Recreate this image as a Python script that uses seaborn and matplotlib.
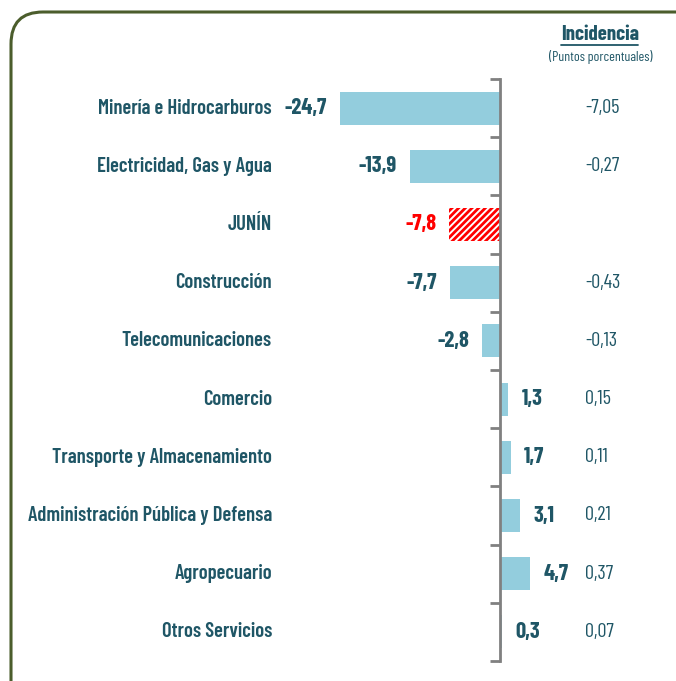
import matplotlib
matplotlib.use("Agg")
import matplotlib.pyplot as plt
import seaborn as sns
import pandas as pd
from matplotlib.patches import FancyBboxPatch
from matplotlib.transforms import IdentityTransform

sectors = ["Minería e Hidrocarburos", "Electricidad, Gas y Agua", "JUNÍN", "Construcción",
           "Telecomunicaciones", "Comercio", "Transporte y Almacenamiento",
           "Administración Pública y Defensa", "Agropecuario", "Otros Servicios"]
variation = [-24.7, -13.9, -7.8, -7.7, -2.8, 1.3, 1.7, 3.1, 4.7, 0.3]
incidence = ["-7,05", "-0,27", "", "-0,43", "-0,13", "0,15", "0,11", "0,21", "0,37", "0,07"]
total_label = "JUNÍN"

TEAL = "#1f5666"
BAR = "#93cddd"
RED = "#ff0000"

sns.set_theme(style="white")
plt.rcParams["font.family"] = ["Barlow Condensed", "DejaVu Sans"]
plt.rcParams["hatch.linewidth"] = 2.0
plt.rcParams["hatch.color"] = RED

W, H = 676, 681
fig = plt.figure(figsize=(W / 100, H / 100), dpi=100)
fig.patch.set_facecolor("white")

# axes placed in pixel terms: x 280..676, y 79..661 (from top)
AX_L, AX_R, AX_T, AX_B = 280, 676, 79, 661
ax = fig.add_axes([AX_L / W, 1 - AX_B / H, (AX_R - AX_L) / W, (AX_B - AX_T) / H])
df = pd.DataFrame({"sector": sectors, "value": variation})
palette = {s: ("white" if s == total_label else BAR) for s in sectors}
sns.barplot(data=df, y="sector", x="value", hue="sector", palette=palette,
            order=sectors, legend=False, width=0.57, ax=ax, saturation=1)
for p, s in zip(ax.patches, sectors):
    p.set_linewidth(0)
    if s == total_label:
        p.set_hatch("/////")
        p.set_edgecolor(RED)
        p.set_facecolor("white")
        p.set_linewidth(0)

ax.set_xlim(-33.95, 27.15)
ax.set_ylim(9.5, -0.5)
ax.set_xlabel("")
ax.set_ylabel("")
ax.set_xticks([])
for side in ["top", "right", "bottom"]:
    ax.spines[side].set_visible(False)
ax.spines["left"].set_position(("data", 0))
ax.spines["left"].set_color("#808080")
ax.spines["left"].set_linewidth(2)
ax.set_yticks([i - 0.5 for i in range(len(sectors) + 1)])
ax.set_yticklabels([])
ax.tick_params(axis="y", direction="out", length=7, width=2, color="#808080", left=True)
ax.patch.set_alpha(0)

span = AX_R - AX_L
label_x = -(AX_L - 272) / span
inc_x = (585 - AX_L) / span
for i, (s, v, inc) in enumerate(zip(sectors, variation, incidence)):
    col = RED if s == total_label else TEAL
    ax.text(label_x, i, s, transform=ax.get_yaxis_transform(), ha="right", va="center",
            fontsize=14.8, fontweight="semibold", color=TEAL)
    txt = f"{v:.1f}".replace(".", ",")
    if v < 0:
        ax.annotate(txt, (v, i), xytext=(-13, 0), textcoords="offset pixels",
                    ha="right", va="center", fontsize=16.3, fontweight="bold", color=col)
    else:
        ax.annotate(txt, (v, i), xytext=(13, 0), textcoords="offset pixels",
                    ha="left", va="center", fontsize=16.3, fontweight="bold", color=col)
    if inc:
        ax.text(inc_x, i, inc, transform=ax.get_yaxis_transform(),
                ha="left", va="center", fontsize=14.5, color=TEAL)

fig.text(600 / W, 1 - 35 / H, "Incidencia", ha="center", va="center", fontsize=15,
         fontweight="bold", color=TEAL)
fig.add_artist(plt.Line2D([561 / W, 638 / W], [1 - 45 / H, 1 - 45 / H], color=TEAL, lw=1.3))
fig.text(601 / W, 1 - 57 / H, "(Puntos porcentuales)", ha="center", va="center",
         fontsize=10, color=TEAL)

# rounded frame in pixel coordinates (origin bottom-left), open past right/bottom edges
frame = FancyBboxPatch((11, -60), 720, H - 12 + 60, boxstyle="round,pad=0,rounding_size=32",
                       transform=IdentityTransform(), fill=False, edgecolor="#4b5d2c", lw=2.2)
fig.add_artist(frame)

fig.savefig("out.png", dpi=100)
